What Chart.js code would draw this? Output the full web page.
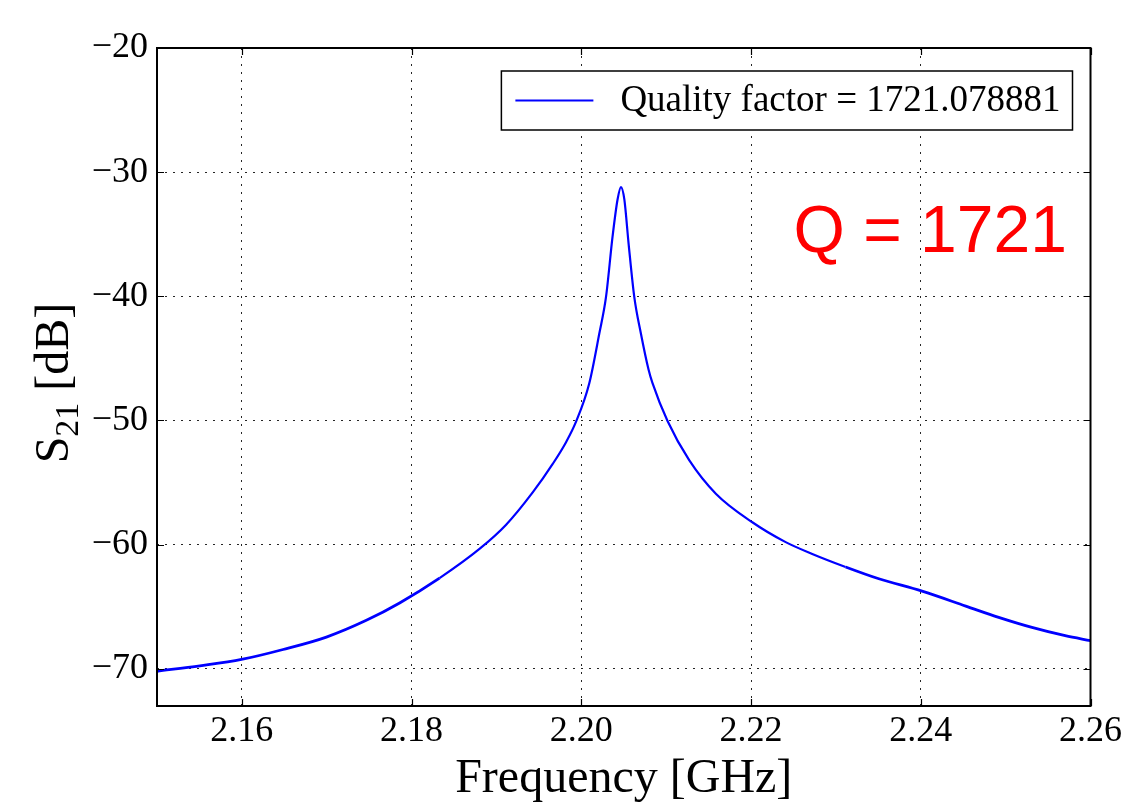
<!DOCTYPE html>
<html>
<head>
<meta charset="utf-8">
<script src="https://cdn.jsdelivr.net/npm/chart.js@4.4.1/dist/chart.umd.min.js"></script>
<style>
  html, body { margin: 0; padding: 0; background: #fff; }
  #wrap { width: 1126px; height: 808px; }
</style>
</head>
<body>
<div id="wrap"><canvas id="chart" width="1126" height="808"></canvas></div>
<script>
// frequency [GHz]
const freq = [
  2.15000, 2.15506, 2.15996, 2.16486, 2.16996, 2.17467, 2.17859, 2.18329, 2.18800, 2.19114,
  2.19427, 2.19663, 2.19820, 2.19938, 2.20094, 2.20212, 2.20291, 2.20368, 2.20427, 2.20467,
  2.20507, 2.20557, 2.20624, 2.20702, 2.20792, 2.20839, 2.21016, 2.21271, 2.21585, 2.22015,
  2.22408, 2.22721, 2.23114, 2.23506, 2.24015, 2.24530, 2.24918, 2.25310, 2.25702, 2.26000
];
// S21 [dB]
const s21 = [
  -70.2, -69.76, -69.25, -68.45, -67.45, -66.1, -64.7, -62.7, -60.35, -58.4,
  -55.8, -53.5, -51.75, -50.1, -47.0, -43.0, -40.05, -35.2, -32.2, -31.2,
  -32.2, -35.75, -40.05, -43.0, -45.9, -47.0, -50.05, -53.2, -55.9, -58.2,
  -59.8, -60.75, -61.8, -62.75, -63.75, -64.95, -65.86, -66.67, -67.34, -67.74
];
const xTicks = [2.16, 2.18, 2.20, 2.22, 2.24, 2.26];
const yTicks = [-70, -60, -50, -40, -30, -20];
const seriesLabel = "Quality factor = 1721.078881";
const noteText = "Q = 1721";

const serif = "'Liberation Serif', 'DejaVu Serif', serif";

// frame, inward ticks, legend box, y title and the red note
const extras = {
  id: "extras",
  afterDraw(chart) {
    const ctx = chart.ctx;
    const a = chart.chartArea;
    const xs = chart.scales.x, ys = chart.scales.y;
    ctx.save();

    // inward tick marks on all four sides
    ctx.strokeStyle = "#000";
    ctx.lineWidth = 1.2;
    ctx.beginPath();
    xTicks.forEach(t => {
      const px = Math.round(xs.getPixelForValue(t)) + 0.5;
      ctx.moveTo(px, a.bottom); ctx.lineTo(px, a.bottom - 7);
      ctx.moveTo(px, a.top); ctx.lineTo(px, a.top + 7);
    });
    yTicks.forEach(t => {
      const py = Math.round(ys.getPixelForValue(t)) + 0.5;
      ctx.moveTo(a.left, py); ctx.lineTo(a.left + 7, py);
      ctx.moveTo(a.right, py); ctx.lineTo(a.right - 7, py);
    });
    ctx.stroke();

    // frame
    ctx.lineWidth = 2;
    ctx.strokeRect(a.left, a.top, a.right - a.left, a.bottom - a.top);

    // legend
    ctx.font = "37px " + serif;
    const tw = ctx.measureText(seriesLabel).width;
    const boxW = 14 + 78 + 27 + tw + 12;
    const boxR = a.right - 18;
    const boxL = boxR - boxW;
    const boxT = a.top + 23;
    const boxH = 59;
    ctx.fillStyle = "#fff";
    ctx.fillRect(boxL, boxT, boxW, boxH);
    ctx.lineWidth = 1.5;
    ctx.strokeStyle = "#000";
    ctx.strokeRect(boxL, boxT, boxW, boxH);
    const midY = boxT + boxH / 2;
    ctx.strokeStyle = chart.data.datasets[0].borderColor;
    ctx.lineWidth = 2;
    ctx.beginPath();
    ctx.moveTo(boxL + 14, midY);
    ctx.lineTo(boxL + 92, midY);
    ctx.stroke();
    ctx.fillStyle = "#000";
    ctx.textBaseline = "middle";
    ctx.textAlign = "left";
    ctx.fillText(seriesLabel, boxL + 119, midY + 1);

    // red annotation
    ctx.fillStyle = "#ff0000";
    ctx.font = "66px 'Liberation Sans', Arial, sans-serif";
    ctx.textBaseline = "alphabetic";
    ctx.fillText(noteText, a.right - 297, a.top + 204);

    // y axis title with subscript
    ctx.translate(68, (a.top + a.bottom) / 2 + 6);
    ctx.rotate(-Math.PI / 2);
    ctx.fillStyle = "#000";
    const big = "48px " + serif, small = "34px " + serif;
    ctx.font = big; const wS = ctx.measureText("S").width;
    const wRest = ctx.measureText(" [dB]").width;
    ctx.font = small; const wSub = ctx.measureText("21").width;
    let x0 = -(wS + wSub + wRest) / 2;
    ctx.font = big; ctx.fillText("S", x0, 0);
    ctx.font = small; ctx.fillText("21", x0 + wS, 10);
    ctx.font = big; ctx.fillText(" [dB]", x0 + wS + wSub, 0);
    ctx.restore();
  }
};

const gridStyle = {
  color: "rgba(0,0,0,0.85)",
  lineWidth: 1,
  drawTicks: false
};

new Chart(document.getElementById("chart"), {
  type: "line",
  data: {
    datasets: [{
      label: seriesLabel,
      data: freq.map((f, i) => ({ x: f, y: s21[i] })),
      borderColor: "#0000ff",
      borderWidth: 2.2,
      pointRadius: 0,
      fill: false,
      cubicInterpolationMode: "monotone",
      // the noisy tails look a little thicker
      segment: {
        borderWidth: c => (c.p0.parsed.y < -61 && c.p1.parsed.y < -61 ? 2.8 : 2.2)
      }
    }]
  },
  options: {
    responsive: false,
    animation: false,
    layout: { padding: { top: 48, right: 34, left: 0, bottom: 0 } },
    plugins: { legend: { display: false }, tooltip: { enabled: false } },
    scales: {
      x: {
        type: "linear",
        min: 2.15,
        max: 2.26,
        afterBuildTicks: s => { s.ticks = xTicks.map(v => ({ value: v })); },
        afterFit: s => { s.height = 102; },
        grid: gridStyle,
        border: { display: false, dash: [2, 6] },
        ticks: {
          color: "#000",
          padding: 4,
          maxRotation: 0,
          font: { family: serif, size: 36 },
          callback: v => Number(v).toFixed(2)
        },
        title: {
          display: true,
          text: "Frequency [GHz]",
          color: "#000",
          font: { family: serif, size: 48 },
          padding: { top: 0, bottom: 0 }
        }
      },
      y: {
        min: -73,
        max: -20,
        afterBuildTicks: s => { s.ticks = yTicks.map(v => ({ value: v })); },
        afterFit: s => { s.width = 157; },
        grid: gridStyle,
        border: { display: false, dash: [2, 6] },
        ticks: {
          color: "#000",
          padding: 9,
          font: { family: serif, size: 36 },
          callback: v => (v < 0 ? "\u2212" + Math.abs(v) : String(v))
        }
      }
    }
  },
  plugins: [extras]
});
</script>
</body>
</html>
